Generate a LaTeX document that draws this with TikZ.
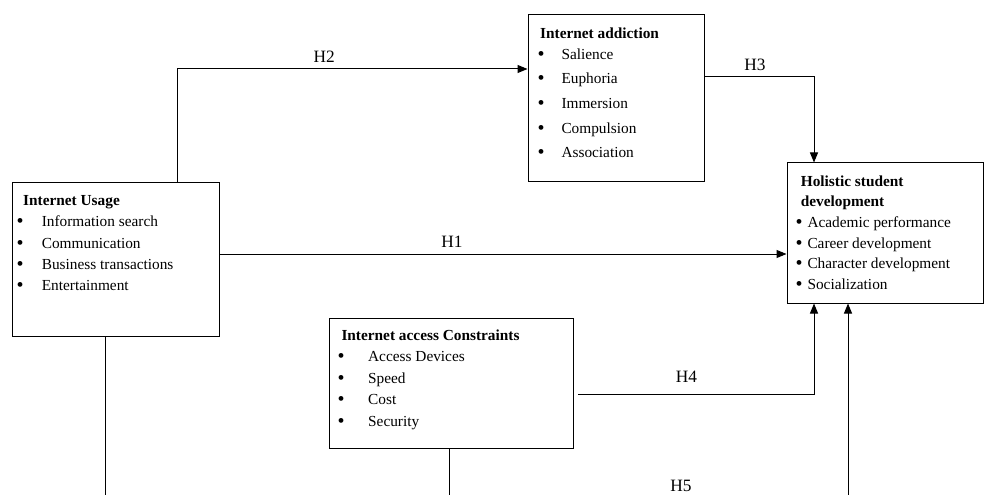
\documentclass[tikz,border=0pt]{standalone}
\usepackage{fontspec}
\setmainfont{Liberation Serif}
\usetikzlibrary{positioning,arrows.meta}

\newcommand{\itm}[2]{\makebox[#1][l]{\raisebox{-0.8pt}{\fontsize{15}{15}\selectfont\textbullet}}#2}

\begin{document}
\begin{tikzpicture}[x=0.75pt, y=-0.75pt, line width=0.75pt,
		varbox/.style={draw, inner sep=0pt},
		varlist/.style={anchor=north west, align=left, inner sep=0pt, font=\fontsize{11.5}{#1}\selectfont},
		link/.style={-{Triangle[length=7.5pt,width=6pt]}},
		hyp/.style={font=\fontsize{13}{15}\selectfont}]
	\useasboundingbox (0,0) rectangle (984,495);
	
	% boxes
	\node[varbox, minimum width=155.25pt, minimum height=114.75pt] (usage) at (115.5,259.5) {};
	\node[varbox, minimum width=132pt, minimum height=125.25pt] (addiction) at (616,98.5) {};
	\node[varbox, minimum width=147pt, minimum height=105pt] (holistic) at (885,233) {};
	\node[varbox, minimum width=183pt, minimum height=97.5pt] (constraints) at (451,383) {};
	
	% box contents
	\node[varlist=16pt] (usagetxt) at (16,195) {\hspace*{5pt}\textbf{Internet Usage}\\
		\itm{19pt}{Information search}\\ \itm{19pt}{Communication}\\
		\itm{19pt}{Business transactions}\\ \itm{19pt}{Entertainment}};
	\node[varlist=18.5pt] (addictiontxt) at (537,27) {\hspace*{2pt}\textbf{Internet addiction}\\[-2.7pt]
		\itm{18pt}{Salience}\\ \itm{18pt}{Euphoria}\\ \itm{18pt}{Immersion}\\
		\itm{18pt}{Compulsion}\\ \itm{18pt}{Association}};
	\node[varlist=15.5pt] (holistictxt) at (795,175) {\hspace*{4pt}\textbf{Holistic student}\\
		\hspace*{4pt}\textbf{development}\\ \itm{9pt}{Academic performance}\\
		\itm{9pt}{Career development}\\ \itm{9pt}{Character development}\\ \itm{9pt}{Socialization}};
	\node[varlist=16.1pt] (constraintstxt) at (337,329) {\hspace*{3pt}\textbf{Internet access Constraints}\\
		\itm{23pt}{Access Devices}\\ \itm{23pt}{Speed}\\ \itm{23pt}{Cost}\\ \itm{23pt}{Security}};
	
	% free ends
	\coordinate (h4start) at (578,394);
	\coordinate (h5foot) at (848,495);
	\coordinate (usagefoot) at (105,495);
	\coordinate (constraintsfoot) at (449,495);
	
	% hypotheses
	\draw[link] (usage.east |- 0,254) -- node[hyp, pos=0.41, above=1pt] (h1) {H1} (holistic.west |- 0,254);
	\draw[link] (usage.north -| 177,0) |- node[hyp, pos=0.71, above=1pt] (h2) {H2} (addiction.west |- 0,69);
	\draw[link] (addiction.east |- 0,77) -| node[hyp, pos=0.23, above=1pt] (h3) {H3} (holistic.north -| 814,0);
	\draw[link] (h4start) -| node[hyp, pos=0.23, above=5pt] (h4) {H4} (holistic.south -| 814,0);
	\draw[link] (h5foot) -- (holistic.south -| h5foot);
	\node[hyp, inner sep=1pt] (h5) at (681,486) {H5};
	\draw (usage.south -| usagefoot) -- (usagefoot);
	\draw (constraints.south -| constraintsfoot) -- (constraintsfoot);
\end{tikzpicture}
\end{document}
